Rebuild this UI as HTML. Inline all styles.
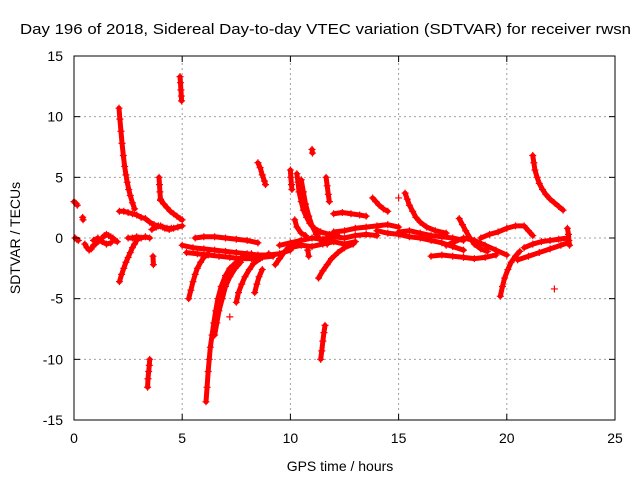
<!DOCTYPE html>
<html><head><meta charset="utf-8"><style>
body{margin:0;background:#fff}
svg{display:block;font-family:"Liberation Sans",sans-serif}
</style></head><body>
<svg id="chart" width="640" height="480" viewBox="0 0 640 480">
<text x="20" y="34" font-size="15" textLength="611" lengthAdjust="spacingAndGlyphs">Day 196 of 2018, Sidereal Day-to-day VTEC variation (SDTVAR) for receiver rwsn</text>
<g id="grid"></g>
<g id="marks"></g>
<rect x="74" y="56" width="541" height="364" fill="none" stroke="#000" stroke-width="1"/>
<g id="ticks"></g>
<text x="340" y="471" font-size="14" text-anchor="middle">GPS time / hours</text>
<text x="20" y="238" font-size="14" text-anchor="middle" transform="rotate(-90 20 238)">SDTVAR / TECUs</text>
</svg>
<script>
const xTicks=[0,5,10,15,20,25];
const yTicks=[-15,-10,-5,0,5,10,15];
const tracks=[
[[0,3],[0.05,2.9],[0.1,2.85],[0.15,2.7]],
[[0.05,0],[0.12,-0.1],[0.2,-0.2]],
[[0.4,1.7],[0.42,1.5]],
[[0.5,-0.5],[0.6,-0.8],[0.7,-1],[0.8,-0.9],[0.9,-0.6],[1.0,-0.5],[1.1,-0.3],[1.2,-0.2],[1.3,0],[1.4,0.2],[1.5,0.3],[1.6,0.2],[1.7,0.1],[1.8,0],[1.9,-0.2],[2.0,-0.3]],
[[0.9,-0.2],[1.1,0],[1.3,-0.3],[1.5,-0.5],[1.7,-0.4]],
[[2.08,10.7],[2.12,9.8],[2.17,8.8],[2.22,7.8],[2.28,6.8],[2.34,5.9],[2.4,5.2],[2.46,4.6],[2.53,4],[2.6,3.5],[2.7,2.9],[2.8,2.4]],
[[2.1,2.2],[2.3,2.2],[2.5,2.1],[2.7,2],[2.9,1.9],[3.1,1.7],[3.3,1.6],[3.5,1.3],[3.7,1.1],[3.9,1],[4.1,0.9],[4.3,0.8],[4.5,0.8]],
[[2.1,-3.6],[2.2,-3],[2.3,-2.5],[2.4,-2],[2.5,-1.6],[2.6,-1.2],[2.7,-0.8],[2.8,-0.5],[2.9,-0.2],[3.0,0]],
[[2.5,0],[2.7,0],[2.9,0.1],[3.1,0],[3.3,0.1],[3.5,0]],
[[3.4,-12.3],[3.42,-11.6],[3.45,-11],[3.48,-10.5],[3.5,-10]],
[[3.65,-1.5],[3.67,-2.2]],
[[3.93,5],[3.95,4.4],[3.97,3.8],[4.0,3.1]],
[[4.0,3.2],[4.15,2.8],[4.3,2.5],[4.45,2.2],[4.6,2],[4.75,1.8],[4.9,1.6],[5.0,1.5]],
[[3.6,0.7],[3.8,0.9],[4.0,1],[4.2,0.8],[4.4,0.7],[4.6,0.8],[4.8,0.9],[5.0,1]],
[[4.9,13.3],[4.92,12.8],[4.94,12.2],[4.96,11.7],[4.97,11.3]],
[[5.0,-0.6],[5.5,-0.8],[6.0,-0.9],[6.5,-1],[7.0,-1.1],[7.5,-1.2],[8.0,-1.3],[8.5,-1.4],[9.0,-1.4],[9.5,-1.3],[10.0,-1]],
[[5.2,-1.2],[5.7,-1.3],[6.2,-1.4],[6.7,-1.5],[7.2,-1.6],[7.7,-1.7],[8.2,-1.7],[8.7,-1.6],[9.2,-1.5]],
[[5.6,0],[6.0,0.1],[6.5,0.1],[7.0,0],[7.5,-0.1],[8.0,-0.2],[8.5,-0.4]],
[[5.3,-5],[5.4,-4.3],[5.5,-3.6],[5.6,-3],[5.7,-2.5],[5.85,-2],[6.0,-1.6],[6.2,-1.3]],
[[6.1,-13.5],[6.15,-12.3],[6.2,-11],[6.25,-10],[6.3,-9],[6.38,-8],[6.46,-7],[6.55,-6],[6.65,-5],[6.8,-4],[7.0,-3.1],[7.2,-2.5],[7.5,-2],[7.8,-1.6],[8.2,-1.3]],
[[6.5,-8],[6.6,-7],[6.7,-6],[6.85,-5],[7.0,-4],[7.2,-3.2],[7.45,-2.5],[7.7,-2]],
[[7.5,-5.3],[7.6,-4.5],[7.75,-3.8],[7.9,-3.2],[8.1,-2.6],[8.3,-2.1],[8.6,-1.7],[9.0,-1.3]],
[[8.35,-4.5],[8.45,-3.8],[8.55,-3.2],[8.7,-2.6]],
[[7.2,-6.5]],
[[8.5,6.2],[8.6,5.8],[8.7,5.2],[8.8,4.7],[8.85,4.4]],
[[9.3,-2.2],[9.5,-1.7],[9.7,-1.2],[9.9,-0.8],[10.1,-0.5],[10.4,-0.3]],
[[10.0,5.6],[10.02,5],[10.05,4.4],[10.07,4]],
[[10.3,5.3],[10.35,4.6],[10.4,3.8],[10.5,3],[10.6,2.3],[10.75,1.7],[10.9,1.2],[11.1,0.8],[11.4,0.5],[11.8,0.3],[12.2,0.2]],
[[10.5,4.8],[10.6,3.8],[10.7,2.8],[10.85,1.8],[11.0,1],[11.2,0.3],[11.4,-0.2],[11.7,-0.5]],
[[10.2,1.5],[10.3,0.9],[10.5,0.4],[10.7,0.2]],
[[10.8,-1],[10.85,-1.5]],
[[11.0,7.3],[11.02,7]],
[[11.65,5],[11.7,4.3],[11.75,3.6],[11.8,3]],
[[11.4,-10],[11.45,-9.3],[11.5,-8.5],[11.55,-7.8],[11.6,-7.2]],
[[11.3,-3.3],[11.5,-2.7],[11.7,-2.2],[11.9,-1.7],[12.2,-1.2],[12.5,-0.8],[12.9,-0.5]],
[[9.5,-0.6],[10,-0.4],[10.5,-0.2],[11,0],[11.5,-0.1],[12,0.1],[12.5,0],[13,0.2],[13.5,0.3],[14,0.2]],
[[10,-0.8],[10.5,-0.6],[11,-0.7],[11.5,-0.5],[12,-0.3],[12.5,-0.5],[13,-0.3]],
[[12.0,2],[12.4,2.1],[12.8,2],[13.2,1.9],[13.5,1.8]],
[[12.0,0.5],[12.5,0.6],[13,0.8],[13.5,0.9],[14,1],[14.5,1.1],[15,0.9]],
[[13.8,3.3],[13.95,3],[14.1,2.7],[14.3,2.4],[14.5,2.2]],
[[15.0,3.3]],
[[15.3,3.7],[15.4,3.2],[15.5,2.7],[15.65,2.2],[15.8,1.7],[16.0,1.3],[16.3,0.9],[16.7,0.6],[17.2,0.4]],
[[14,0.6],[14.5,0.4],[15,0.3],[15.5,0.1],[16,0],[16.5,-0.2],[17,-0.4],[17.5,-0.7],[18,-1]],
[[15,0.5],[15.5,0.6],[16,0.4],[16.5,0.2],[17,0.1],[17.5,0],[18,-0.2]],
[[16.5,-1.5],[17,-1.4],[17.5,-1.5],[18,-1.6],[18.5,-1.7],[19,-1.6],[19.5,-1.4]],
[[17.8,1.6],[17.95,1.1],[18.1,0.6],[18.3,0],[18.5,-0.5],[18.8,-0.9],[19.1,-1.1]],
[[17.2,-0.6],[17.6,-0.3],[18,0],[18.5,-0.2],[19,-0.6],[19.5,-1],[20,-1.4]],
[[19.7,-4.8],[19.8,-4],[19.9,-3.3],[20.05,-2.6],[20.2,-2],[20.4,-1.5],[20.6,-1.1]],
[[18.8,0],[19.2,0.3],[19.6,0.5],[20,0.8],[20.4,1],[20.8,1],[21.0,0.6],[21.2,0.2]],
[[21.2,6.8],[21.25,6.2],[21.3,5.6],[21.4,5],[21.5,4.5],[21.65,4],[21.8,3.6],[22.0,3.2],[22.2,2.9],[22.4,2.6],[22.6,2.3]],
[[20.5,-1.8],[21,-1.5],[21.5,-1.2],[22,-0.9],[22.5,-0.6],[22.8,-0.4]],
[[20.8,-0.8],[21.2,-0.5],[21.6,-0.3],[22,-0.2],[22.4,-0.1],[22.8,0]],
[[22.2,-4.2]],
[[22.8,0.8],[22.85,0.3],[22.87,-0.2],[22.9,-0.6]]
];
const X0=74,X1=615,Y0=420,Y1=56;
const xs=t=>X0+(t-0)/25*(X1-X0);
const ys=v=>Y0-(v+15)/30*(Y0-Y1);
const NS='http://www.w3.org/2000/svg';
const grid=document.getElementById('grid'),ticks=document.getElementById('ticks'),marks=document.getElementById('marks');
function mk(tag,at,parent){const e=document.createElementNS(NS,tag);for(const k in at)e.setAttribute(k,at[k]);parent.appendChild(e);return e;}
xTicks.forEach(t=>{const x=xs(t);
 if(t>0&&t<25){const l=mk('line',{x1:x,y1:Y0,x2:x,y2:Y1,stroke:'#a0a0a0','stroke-dasharray':'2,3'},grid);
 
 }
 mk('line',{x1:x,y1:Y0,x2:x,y2:Y0-6,stroke:'#000'},ticks);
 mk('line',{x1:x,y1:Y1,x2:x,y2:Y1+6,stroke:'#000'},ticks);
 const tx=mk('text',{x:x,y:443,'font-size':14,'text-anchor':'middle'},ticks);tx.textContent=t;
 
 });
yTicks.forEach(v=>{const y=ys(v);
 if(v>-15&&v<15){const l=mk('line',{x1:X0,y1:y,x2:X1,y2:y,stroke:'#a0a0a0','stroke-dasharray':'2,3'},grid);
 
 }
 mk('line',{x1:X0,y1:y,x2:X0+6,y2:y,stroke:'#000'},ticks);
 mk('line',{x1:X1,y1:y,x2:X1-6,y2:y,stroke:'#000'},ticks);
 const tx=mk('text',{x:63,y:y+5,'font-size':14,'text-anchor':'end'},ticks);tx.textContent=v;
 
 });
tracks.forEach(tr=>{
 if(tr.length>1){const pl=mk('polyline',{points:tr.map(p=>xs(p[0])+','+ys(p[1])).join(' '),fill:'none',stroke:'#f00','stroke-width':5,'stroke-linejoin':'round','stroke-linecap':'round'},marks);
 
 }
 tr.forEach(p=>{const x=xs(p[0]),y=ys(p[1]);
  const g=mk('path',{d:`M${x-3.5},${y}H${x+3.5}M${x},${y-3.5}V${y+3.5}`,stroke:'#f00','stroke-width':1.2},marks);
  
  });
});
</script>
</body></html>
